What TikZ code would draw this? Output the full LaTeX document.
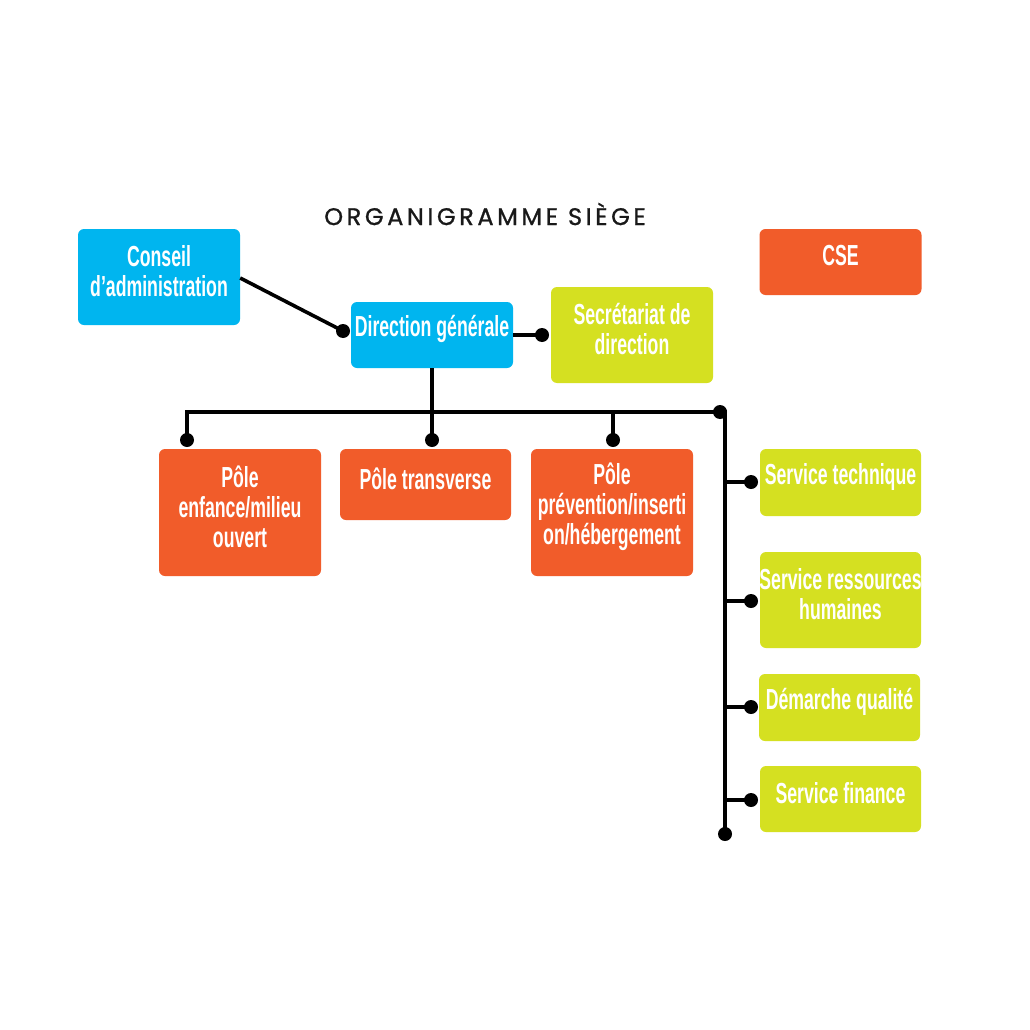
\documentclass[tikz,border=0pt]{standalone}
\usepackage{fontspec}
\newfontfamily\boxfont{Liberation Sans}[FakeStretch=0.61]
\newfontfamily\titlefont{Poppins}[LetterSpace=15,FakeBold=1]
\definecolor{cblue}{RGB}{0,181,239}
\definecolor{clime}{RGB}{213,224,33}
\definecolor{corange}{RGB}{241,92,42}
\begin{document}
\begin{tikzpicture}[x=1pt,y=-1pt,
  box/.style={rounded corners=6pt, inner sep=0pt, draw=none},
  bluebox/.style={box, fill=cblue},
  limebox/.style={box, fill=clime},
  orangebox/.style={box, fill=corange},
  lbl/.style={text=white, align=center, inner sep=0pt, yshift=6pt,
    font=\boxfont\bfseries\fontsize{29}{30}\selectfont},
  conn/.style={line width=3.6pt, black},
  dotc/.style={fill=black}]
\useasboundingbox (0,0) rectangle (1030,1030);
\fill[white] (0,0) rectangle (1030,1030);

% title
\node[font=\titlefont\fontsize{24}{26}\selectfont, text=black!90] (title) at (485,214) {ORGANIGRAMME SIÈGE};

% boxes
\node[bluebox, minimum width=162pt, minimum height=96pt] (ca) at (159,277) {};
\node[bluebox, minimum width=162pt, minimum height=66pt] (dg) at (432,335) {};
\node[limebox, minimum width=162pt, minimum height=96pt] (sd) at (632,335) {};
\node[orangebox, minimum width=162pt, minimum height=66pt] (cse) at (840.5,262) {};
\node[orangebox, minimum width=162pt, minimum height=127pt] (pe) at (240,512.5) {};
\node[orangebox, minimum width=171pt, minimum height=71pt] (pt) at (425.5,484.5) {};
\node[orangebox, minimum width=162pt, minimum height=127pt] (pp) at (612,512.5) {};
\node[limebox, minimum width=161pt, minimum height=67pt] (st) at (840.5,482.5) {};
\node[limebox, minimum width=161pt, minimum height=96pt] (srh) at (840.5,600) {};
\node[limebox, minimum width=161pt, minimum height=67pt] (dq) at (839.5,707.5) {};
\node[limebox, minimum width=161pt, minimum height=66pt] (sf) at (840.5,799) {};

% labels
\node[lbl] (ca-t) at (ca) {Conseil\\d’administration};
\node[lbl] (dg-t) at (dg) {Direction générale};
\node[lbl] (sd-t) at (sd) {Secrétariat de\\direction};
\node[lbl] (cse-t) at (cse) {CSE};
\node[lbl] (pe-t) at (pe) {Pôle\\enfance/milieu\\ouvert};
\node[lbl] (pt-t) at (pt) {Pôle transverse};
\node[lbl] (pp-t) at (pp) {Pôle\\prévention/inserti\\on/hébergement};
\node[lbl] (st-t) at (st) {Service technique};
\node[lbl] (srh-t) at (srh) {Service ressources\\humaines};
\node[lbl] (dq-t) at (dq) {Démarche qualité};
\node[lbl] (sf-t) at (sf) {Service finance};

% junction coordinates
\coordinate (cadot) at (343,331);
\coordinate (sddot) at (542,335);
\coordinate (busL) at (187,412);
\coordinate (busR) at (720,412);
\coordinate (vtop) at (725,412);
\coordinate (vbot) at (725,834);
\coordinate (pedot) at (187,440);
\coordinate (ptdot) at (432,440);
\coordinate (ppdot) at (613,440);
\coordinate (stdot) at (751,482);
\coordinate (srhdot) at (751,601);
\coordinate (dqdot) at (751,707);
\coordinate (sfdot) at (751,800);

% connectors
\draw[conn] (ca.east |- 0,278) -- (cadot);
\draw[conn] (dg.east) -- (sddot);
\draw[conn] (dg.south) -- (dg.south |- busL);
\draw[conn] (pedot) -- (busL) -- (vtop) -- (vbot);
\draw[conn] (ptdot) -- (ptdot |- busL);
\draw[conn] (ppdot) -- (ppdot |- busL);
\draw[conn] (stdot) -- (vtop |- stdot);
\draw[conn] (srhdot) -- (vtop |- srhdot);
\draw[conn] (dqdot) -- (vtop |- dqdot);
\draw[conn] (sfdot) -- (vtop |- sfdot);

% dots
\foreach \d in {cadot,sddot,busR,vbot,pedot,ptdot,ppdot,stdot,srhdot,dqdot,sfdot}
  \fill[dotc] (\d) circle (7);
\end{tikzpicture}
\end{document}
